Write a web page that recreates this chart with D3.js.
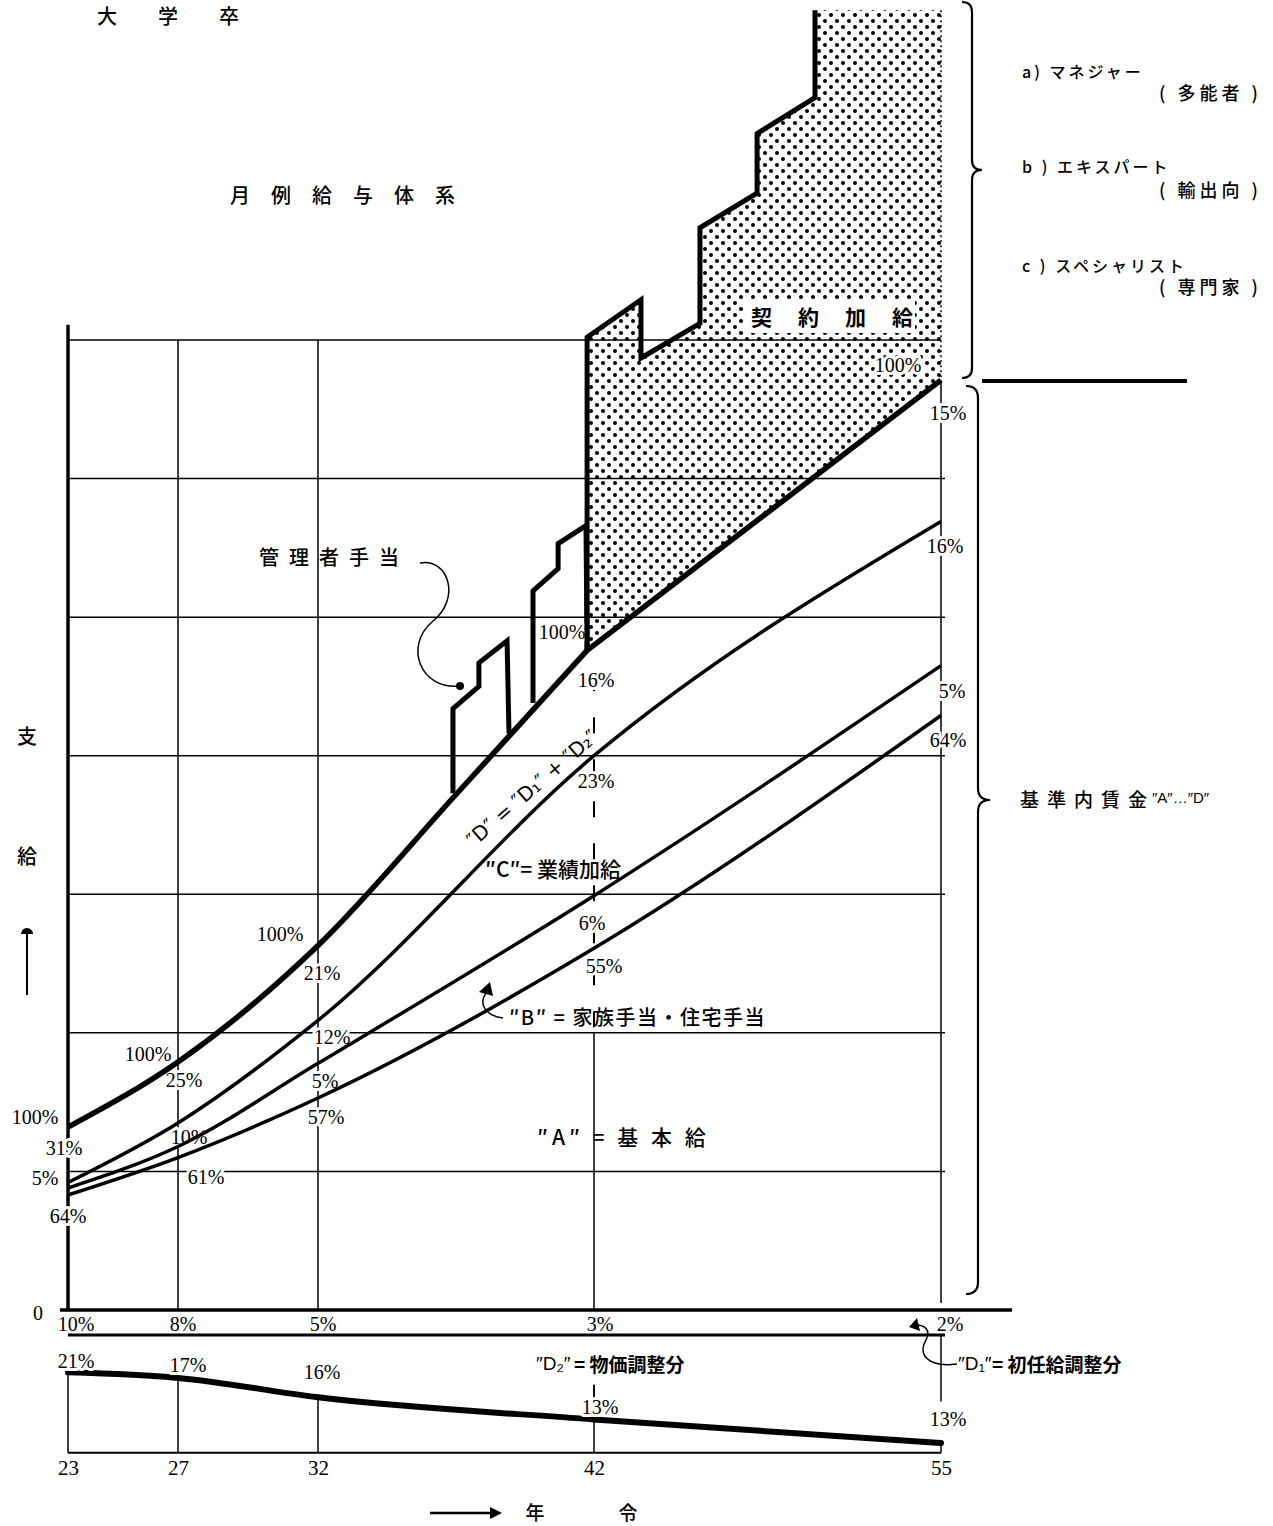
<!DOCTYPE html>
<html><head><meta charset="utf-8">
<script src="https://cdn.jsdelivr.net/npm/d3@7"></script>
<style>body{margin:0;background:#fff}</style>
</head><body>
<script>
// ---------- data ----------
const ages = [23, 27, 32, 42, 55];
const tickLabels = ["23", "27", "32", "42", "55"];
const totalAges = [23, 27, 32, 37, 41.75, 55];
const totalVals = [1.32, 1.79, 2.63, 3.72, 4.76, 6.71];   // 月例給 total (thick)
const lineDC = [0.92, 1.35, 2.09, 4.00, 5.69];              // top of "C"
const lineCB = [0.88, 1.18, 1.78, 2.99, 4.65];              // top of "B"
const lineBA = [0.83, 1.10, 1.53, 2.61, 4.29];              // top of "A"
const contractAges = [41.75, 41.75, 43.76, 43.76, 45.97, 45.97, 48.11, 48.11, 50.28, 50.28, 55, 55];
const contractVals = [4.76, 7.02, 7.29, 6.87, 7.12, 7.81, 8.06, 8.49, 8.75, 9.38, 9.38, 6.71];
const mgr1Ages = [36.89, 36.89, 37.83, 37.83, 38.85, 38.92];
const mgr1Vals = [3.73, 4.34, 4.50, 4.67, 4.83, 4.16];
const mgr2Ages = [39.79, 39.79, 40.70, 40.70, 41.71, 41.75];
const mgr2Vals = [4.38, 5.19, 5.35, 5.53, 5.66, 4.76];
const d1Labels = ["10%", "8%", "5%", "3%", "2%"];
const d2Labels = ["21%", "17%", "16%", "13%", "13%"];
const d2Curve = [-0.45, -0.49, -0.63, -0.79, -0.96];
// share labels per age: [text, level, dx]
const shares23 = [["100%", 1.39, -33], ["31%", 1.17, -4], ["5%", 0.95, -23], ["64%", 0.68, 0]];
const shares27 = [["100%", 1.85, -30], ["25%", 1.66, 6], ["10%", 1.25, 11], ["61%", 0.96, 28]];
const shares32 = [["100%", 2.71, -38], ["21%", 2.43, 4], ["12%", 1.97, 14], ["5%", 1.65, 7], ["57%", 1.39, 8]];
const shares42 = [["100%", 4.89, -32], ["16%", 4.55, 2], ["23%", 3.82, 2], ["6%", 2.79, -2], ["55%", 2.48, 10]];
const shares55 = [["100%", 6.82, -43], ["15%", 6.47, 7], ["16%", 5.51, 4], ["5%", 4.47, 11], ["64%", 4.11, 7]];

// ---------- scales ----------
const x = d3.scaleLinear().domain([23, 27, 32, 42, 55]).range([68, 178, 318, 594, 941]);
const y = d3.scaleLinear().domain([0, 7]).range([1310, 340]);

const svg = d3.select("body").append("svg").attr("width", 1273).attr("height", 1526);
const defs = svg.append("defs");
const pat = defs.append("pattern").attr("id", "dots").attr("width", 12).attr("height", 12)
  .attr("patternUnits", "userSpaceOnUse");
pat.append("circle").attr("cx", 3).attr("cy", 3).attr("r", 2).attr("fill", "#000");
pat.append("circle").attr("cx", 9).attr("cy", 9).attr("r", 2).attr("fill", "#000");

const JP = "'Noto Sans CJK JP', sans-serif";
const SERIF = "'Liberation Serif', serif";
function txt(g, px, py, s, o = {}) {
  const t = g.append("text").attr("x", px).attr("y", py).text(s)
    .attr("font-family", o.font || JP).attr("font-size", o.size || 19)
    .attr("font-weight", o.weight || 500).attr("fill", "#000")
    .attr("text-anchor", o.anchor || "start").attr("dominant-baseline", "central");
  if (o.ls) t.attr("letter-spacing", o.ls);
  if (o.halo) t.attr("stroke", "#fff").attr("stroke-width", 6).attr("paint-order", "stroke").attr("stroke-linejoin", "round");
  return t;
}
const line = d3.line().curve(d3.curveMonotoneX);
const lin = d3.line();

// ---------- grid ----------
const grid = svg.append("g").attr("stroke", "#000").attr("fill", "none");
d3.range(1, 8).forEach(v => {
  grid.append("line").attr("x1", x(23)).attr("x2", v === 7 ? x(55) : x(55) + 4)
    .attr("y1", y(v)).attr("y2", y(v)).attr("stroke-width", 1.5);
});
[27, 32].forEach(a => grid.append("line").attr("x1", x(a)).attr("x2", x(a))
  .attr("y1", y(7)).attr("y2", y(0)).attr("stroke-width", 1.5));
grid.append("line").attr("x1", x(42)).attr("x2", x(42)).attr("y1", y(4.58)).attr("y2", y(2.0))
  .attr("stroke-width", 2).attr("stroke-dasharray", "16,26");
grid.append("line").attr("x1", x(42)).attr("x2", x(42)).attr("y1", y(2.0)).attr("y2", y(0)).attr("stroke-width", 1.5);
grid.append("line").attr("x1", x(55)).attr("x2", x(55)).attr("y1", y(6.71)).attr("y2", y(0.05)).attr("stroke-width", 1.5);
// left axis
grid.append("line").attr("x1", x(23)).attr("x2", x(23)).attr("y1", y(7.11)).attr("y2", y(0)).attr("stroke-width", 3.5);

// ---------- contract (stippled) ----------
const contractPts = contractAges.map((a, i) => [x(a), y(contractVals[i])]);
svg.append("path").attr("d", lin(contractPts) + "Z").attr("fill", "url(#dots)").attr("stroke", "none");
svg.append("path").attr("d", lin(contractPts.slice(0, 10))).attr("fill", "none").attr("stroke", "#000")
  .attr("stroke-width", 5).attr("stroke-linejoin", "miter");
svg.append("path").attr("d", lin(contractPts.slice(10))).attr("fill", "none").attr("stroke", "#000")
  .attr("stroke-width", 1.5).attr("stroke-dasharray", "2,3");
svg.append("rect").attr("x", 745).attr("y", 300).attr("width", 170).attr("height", 33).attr("fill", "#fff");
txt(svg, 751, 316, "契約加給", { size: 21, ls: 26, weight: 700 });

// ---------- share labels (halo breaks vertical rules) ----------
[[23, shares23], [27, shares27], [32, shares32], [42, shares42], [55, shares55]].forEach(([a, arr]) => {
  arr.forEach(([s, v, dx]) => txt(svg, x(a) + dx, y(v), s, { font: SERIF, size: 20, anchor: "middle", weight: 400, halo: true }));
});

// ---------- series lines ----------
const totalPts = totalAges.map((a, i) => [x(a), y(totalVals[i])]);
const last = totalPts[totalPts.length - 1];
svg.append("path").attr("d", line(totalPts.slice(0, -1)) + `L${last[0]},${last[1]}`)
  .attr("fill", "none").attr("stroke", "#000").attr("stroke-width", 5.5).attr("stroke-linejoin", "round");
[lineDC, lineCB, lineBA].forEach(arr => {
  svg.append("path").attr("d", line(ages.map((a, i) => [x(a), y(arr[i])])))
    .attr("fill", "none").attr("stroke", "#000").attr("stroke-width", 3.5);
});
// manager allowance steps
[[mgr1Ages, mgr1Vals], [mgr2Ages, mgr2Vals]].forEach(([as, vs]) => {
  svg.append("path").attr("d", lin(as.map((a, i) => [x(a), y(vs[i])])))
    .attr("fill", "none").attr("stroke", "#000").attr("stroke-width", 5).attr("stroke-linejoin", "miter");
});

// ---------- text labels ----------
txt(svg, 97, 15, "大学卒", { size: 20, ls: 41 });
txt(svg, 230, 194, "月例給与体系", { size: 20, ls: 21 });
txt(svg, 259, 556, "管理者手当", { size: 20, ls: 10 });
svg.append("path").attr("d", "M420,563 C448,558 462,598 432,622 C404,646 420,690 460,686")
  .attr("fill", "none").attr("stroke", "#000").attr("stroke-width", 1.5);
svg.append("circle").attr("cx", 460).attr("cy", 686).attr("r", 4).attr("fill", "#000");

txt(svg, 532, 788, "″D″ = ″D₁″ + ″D₂″", { font: "'DejaVu Sans', sans-serif", size: 20, anchor: "middle", weight: 400 })
  .attr("transform", "rotate(-41,532,788)");
txt(svg, 485, 868, "″C″= 業績加給", { size: 21 });
txt(svg, 509, 1016, "″B″ = 家族手当・住宅手当", { size: 20, ls: 1.5 });
svg.append("path").attr("d", "M503,1018 C486,1016 478,1004 486,993").attr("fill", "none").attr("stroke", "#000").attr("stroke-width", 1.5);
svg.append("path").attr("d", "M479,992 L490,982 L493,996 Z").attr("fill", "#000");
txt(svg, 537, 1136, "″A″ = 基 本 給", { size: 21, ls: 4 });

// right side
function brace(bx, y0, ym, y1, r) {
  return `M${bx - r},${y0} Q${bx},${y0} ${bx},${y0 + r} L${bx},${ym - r} Q${bx},${ym} ${bx + r},${ym} ` +
    `Q${bx},${ym} ${bx},${ym + r} L${bx},${y1 - r} Q${bx},${y1} ${bx - r},${y1}`;
}
svg.append("path").attr("d", brace(972, 2, 170, 378, 10)).attr("fill", "none").attr("stroke", "#000").attr("stroke-width", 2.2);
svg.append("path").attr("d", brace(978, 386, 800, 1294, 12)).attr("fill", "none").attr("stroke", "#000").attr("stroke-width", 2.2);
svg.append("line").attr("x1", 982).attr("x2", 1187).attr("y1", 381).attr("y2", 381).attr("stroke", "#000").attr("stroke-width", 4);
txt(svg, 1022, 71, "a) マネジャー", { size: 16, ls: 3 });
txt(svg, 1262, 92, "( 多能者 )", { size: 18, anchor: "end", ls: 4 });
txt(svg, 1022, 166, "b ) エキスパート", { size: 16, ls: 3 });
txt(svg, 1262, 189, "( 輸出向 )", { size: 18, anchor: "end", ls: 4 });
txt(svg, 1022, 265, "c ) スペシャリスト", { size: 16, ls: 3 });
txt(svg, 1262, 286, "( 専門家 )", { size: 18, anchor: "end", ls: 4 });
txt(svg, 1020, 798, "基準内賃金", { size: 19, ls: 8 });
txt(svg, 1152, 797, "″A″…″D″", { font: "'Liberation Sans', sans-serif", size: 15, weight: 400 });

// left axis title
txt(svg, 27, 735, "支", { size: 20, anchor: "middle" });
txt(svg, 27, 855, "給", { size: 20, anchor: "middle" });
svg.append("line").attr("x1", 27).attr("x2", 27).attr("y1", 995).attr("y2", 932).attr("stroke", "#000").attr("stroke-width", 2);
svg.append("path").attr("d", "M21,934 A6,6 0 0 1 33,934 Z").attr("fill", "#000");
txt(svg, 38, 1313, "0", { font: SERIF, size: 20, anchor: "middle", weight: 400 });

// ---------- lower section (D1, D2) ----------
const low = svg.append("g").attr("stroke", "#000").attr("fill", "none");
low.append("line").attr("x1", 60).attr("x2", 1012).attr("y1", y(0)).attr("y2", y(0)).attr("stroke-width", 3.5);
low.append("line").attr("x1", x(23)).attr("x2", x(55) + 4).attr("y1", y(-0.18)).attr("y2", y(-0.18)).attr("stroke-width", 3);
low.append("line").attr("x1", x(23)).attr("x2", x(55)).attr("y1", y(-1.03)).attr("y2", y(-1.03)).attr("stroke-width", 2);
ages.forEach((a, i) => {
  low.append("line").attr("x1", x(a)).attr("x2", x(a)).attr("y1", y(d2Curve[i])).attr("y2", y(-1.03)).attr("stroke-width", 1.5);
});
low.append("line").attr("x1", x(55)).attr("x2", x(55)).attr("y1", y(-0.18)).attr("y2", y(-0.66)).attr("stroke-width", 1.5);
low.append("line").attr("x1", x(42)).attr("x2", x(42)).attr("y1", y(-0.54)).attr("y2", y(-0.64)).attr("stroke-width", 2);
svg.append("path").attr("d", line(ages.map((a, i) => [x(a), y(d2Curve[i])])))
  .attr("fill", "none").attr("stroke", "#000").attr("stroke-width", 6).attr("stroke-linecap", "round");

const d1dx = [8, 5, 5, 6, 9];
ages.forEach((a, i) => txt(svg, x(a) + d1dx[i], y(-0.09) + 2, d1Labels[i], { font: SERIF, size: 20, anchor: "middle", weight: 400 }));
const d2pos = [[8, -0.37], [10, -0.40], [4, -0.45], [6, -0.70], [7, -0.79]];
ages.forEach((a, i) => txt(svg, x(a) + d2pos[i][0], y(d2pos[i][1]), d2Labels[i], { font: SERIF, size: 20, anchor: "middle", weight: 400, halo: true }));
txt(svg, 536, 1363, "″D₂″", { font: "'Liberation Sans', sans-serif", size: 19, weight: 400 });
txt(svg, 574, 1363, "= 物価調整分", { size: 19, weight: 700 });
txt(svg, 958, 1363, "″D₁″", { font: "'Liberation Sans', sans-serif", size: 19, weight: 400 });
txt(svg, 992, 1363, "= 初任給調整分", { size: 19, weight: 700 });
svg.append("path").attr("d", "M957,1364 C925,1368 918,1352 926,1340 C931,1330 925,1325 916,1325")
  .attr("fill", "none").attr("stroke", "#000").attr("stroke-width", 1.5);
svg.append("path").attr("d", "M909,1327 L917,1318 L920,1331 Z").attr("fill", "#000");

// x axis ticks
const xAxis = d3.axisBottom(x).tickValues(ages).tickFormat((d, i) => tickLabels[i]).tickSize(0).tickPadding(0);
const ax = svg.append("g").attr("transform", `translate(0,1460)`).call(xAxis);
ax.select(".domain").remove();
ax.selectAll("text").attr("font-family", SERIF).attr("font-size", 21).attr("fill", "#000");

// axis title
svg.append("line").attr("x1", 430).attr("x2", 492).attr("y1", 1513).attr("y2", 1513).attr("stroke", "#000").attr("stroke-width", 2.5);
svg.append("path").attr("d", "M490,1507 L502,1513 L490,1519 Z").attr("fill", "#000");
txt(svg, 535, 1511, "年", { size: 19, anchor: "middle" });
txt(svg, 628, 1511, "令", { size: 19, anchor: "middle" });
</script>
</body></html>
